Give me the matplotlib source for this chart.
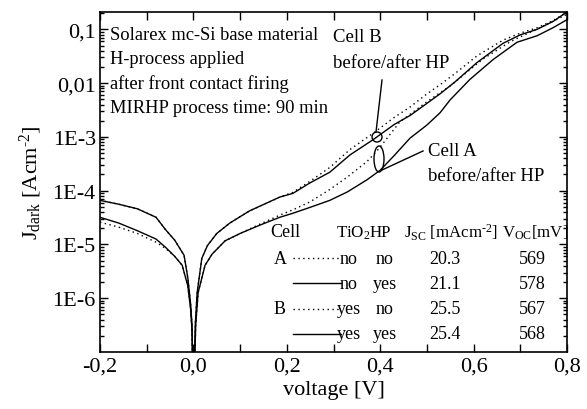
import numpy as np
import matplotlib.pyplot as plt
from matplotlib.patches import Ellipse
from matplotlib.lines import Line2D
from matplotlib.ticker import FixedLocator, NullFormatter

plt.rcParams['font.family'] = ['Liberation Serif', 'DejaVu Serif']
plt.rcParams['mathtext.fontset'] = 'custom'
plt.rcParams['mathtext.rm'] = 'Liberation Serif'
plt.rcParams['mathtext.it'] = 'Liberation Serif'

# dark IV curves, J in A/cm^2
v_a_after = [-0.20, -0.16, -0.12, -0.08, -0.06, -0.04, -0.024, -0.012, -0.006, -0.003, 0.0,
             0.005, 0.010, 0.025, 0.04, 0.068, 0.10, 0.143, 0.185, 0.213, 0.25, 0.292, 0.33,
             0.372, 0.40, 0.43, 0.464, 0.50, 0.528, 0.55, 0.592, 0.642, 0.693, 0.736, 0.77, 0.80]
j_a_after = [3.2e-5, 2.5e-5, 1.8e-5, 1.26e-5, 8.9e-6, 6.0e-6, 4.1e-6, 1.7e-6, 6.3e-7, 2.5e-7, 1e-8,
             3.2e-7, 1.26e-6, 4.1e-6, 6.6e-6, 1.17e-5, 1.6e-5, 2.3e-5, 3.2e-5, 3.8e-5, 4.9e-5, 6.6e-5, 9.5e-5,
             1.6e-4, 2.4e-4, 4.5e-4, 9.5e-4, 1.66e-3, 2.8e-3, 4.9e-3, 1.17e-2, 2.75e-2, 5.75e-2, 7.6e-2, 0.107, 0.151]

v_a_before = [-0.20, -0.16, -0.12, -0.08, -0.06, -0.04, -0.024, -0.012, -0.006, -0.003, 0.0,
              0.005, 0.010, 0.025, 0.04, 0.068, 0.10, 0.143, 0.185, 0.213, 0.25, 0.292, 0.33,
              0.372, 0.397, 0.442, 0.50, 0.55, 0.62, 0.68, 0.74, 0.80]
j_a_before = [2.6e-5, 2.1e-5, 1.6e-5, 1.1e-5, 8.5e-6, 6.0e-6, 4.1e-6, 1.7e-6, 6.3e-7, 2.5e-7, 1e-8,
              3.2e-7, 1.26e-6, 4.1e-6, 6.6e-6, 1.17e-5, 1.6e-5, 2.4e-5, 3.5e-5, 4.4e-5, 6.2e-5, 1.05e-4, 1.8e-4,
              3.5e-4, 6.0e-4, 1.9e-3, 4.5e-3, 8.9e-3, 2.8e-2, 6.0e-2, 0.105, 0.19]

v_b = [-0.20, -0.16, -0.12, -0.08, -0.06, -0.04, -0.02, -0.012, -0.006, -0.003, 0.0,
       0.004, 0.008, 0.018, 0.03, 0.05, 0.078, 0.12, 0.185, 0.213, 0.25, 0.292, 0.335,
       0.385, 0.43, 0.464, 0.50, 0.528, 0.56, 0.607, 0.663, 0.70, 0.736, 0.77, 0.80]
j_b_after = [6.6e-5, 5.6e-5, 4.6e-5, 3.2e-5, 1.9e-5, 1.2e-5, 6.3e-6, 2.4e-6, 7.9e-7, 3.2e-7, 1e-8,
             3.2e-7, 1.26e-6, 5.5e-6, 9.5e-6, 1.6e-5, 2.5e-5, 4.2e-5, 7.6e-5, 8.9e-5, 1.4e-4, 2.2e-4, 4.6e-4,
             8.9e-4, 1.7e-3, 2.5e-3, 4.2e-3, 6.3e-3, 1.05e-2, 2.4e-2, 5.5e-2, 7.9e-2, 0.10, 0.14, 0.21]
j_b_before = [6.6e-5, 5.6e-5, 4.6e-5, 3.2e-5, 1.9e-5, 1.2e-5, 6.3e-6, 2.4e-6, 7.9e-7, 3.2e-7, 1e-8,
              3.2e-7, 1.26e-6, 5.5e-6, 9.5e-6, 1.6e-5, 2.5e-5, 4.2e-5, 7.6e-5, 9.3e-5, 1.5e-4, 2.7e-4, 5.8e-4,
              1.17e-3, 2.3e-3, 3.6e-3, 6.3e-3, 9.3e-3, 1.5e-2, 3.2e-2, 6.3e-2, 8.5e-2, 0.107, 0.145, 0.21]

x_ticks = [-0.2, 0.0, 0.2, 0.4, 0.6, 0.8]
x_labels = ['-0,2', '0,0', '0,2', '0,4', '0,6', '0,8']
y_ticks = [1e-6, 1e-5, 1e-4, 1e-3, 1e-2, 1e-1]
y_labels = ['1E-6', '1E-5', '1E-4', '1E-3', '0,01', '0,1']

info_lines = ['Solarex mc-Si base material', 'H-process applied',
              'after front contact firing', 'MIRHP process time: 90 min']

cells = ['A', '', 'B', '']
tio2 = ['no', 'no', 'yes', 'yes']
hp = ['no', 'yes', 'no', 'yes']
jsc = ['20.3', '21.1', '25.5', '25.4']
voc = ['569', '578', '567', '568']

W, H = 587, 410
fig = plt.figure(figsize=(W / 100, H / 100), dpi=100)
ax = fig.add_axes([100 / W, 1 - 353 / H, 467 / W, 340 / H])

dots = (0, (1, 2.5))
ax.plot(v_a_after, j_a_after, 'k-', lw=1.0)
ax.plot(v_a_before, j_a_before, color='k', ls=dots, lw=1.0)
ax.plot(v_b, j_b_after, 'k-', lw=1.0)
ax.plot(v_b, j_b_before, color='k', ls=dots, lw=1.0)

ax.set_yscale('log')
ax.set_xlim(-0.2, 0.8)
ax.set_ylim(1e-7, 0.21)

ax.set_xticks(x_ticks)
ax.set_xticklabels(x_labels)
ax.xaxis.set_minor_locator(FixedLocator([-0.1, 0.1, 0.3, 0.5, 0.7]))
ax.yaxis.set_major_locator(FixedLocator(y_ticks))
ax.set_yticklabels(y_labels)
ax.yaxis.set_minor_formatter(NullFormatter())
ax.tick_params(which='both', direction='in', top=True, right=True, labelsize=16, width=1)
ax.tick_params(which='major', length=6)
ax.tick_params(which='minor', length=3)
ax.tick_params(axis='x', which='minor', length=6)
ax.tick_params(axis='y', pad=3)
for s in ax.spines.values():
    s.set_linewidth(1.2)

hy = '\u2010'
ax.set_xlabel('voltage [V]', fontsize=16, labelpad=3)
ax.set_ylabel(r'J$_{\rm dark}$ [Acm$^{' + hy + '2}$]', fontsize=16, labelpad=6)

def px(x, y):
    return x / W, 1 - y / H

for i, t in enumerate(info_lines):
    fig.text(*px(110, 35 + 24.5 * i), t, fontsize=13.3, va='center')

# markers for cell A and cell B
ax.add_patch(Ellipse(((377 - 100) / 467, (353 - 138) / 340), 10 / 467, 10 / 340,
                     transform=ax.transAxes, fill=False, lw=1))
ax.add_patch(Ellipse(((379 - 100) / 467, (353 - 160) / 340), 10 / 467, 26 / 340,
                     transform=ax.transAxes, fill=False, lw=1))
fig.add_artist(Line2D([376 / W, 382 / W], [1 - 133 / H, 1 - 81 / H], color='k', lw=1))
fig.add_artist(Line2D([382 / W, 423 / W], [1 - 171 / H, 1 - 152 / H], color='k', lw=1))
fig.text(*px(333, 37), 'Cell B', fontsize=13.5, va='center')
fig.text(*px(333, 63), 'before/after HP', fontsize=13.5, va='center')
fig.text(*px(428, 151), 'Cell A', fontsize=13.5, va='center')
fig.text(*px(428, 177), 'before/after HP', fontsize=13.5, va='center')

# table
hy_row = 233
fs = 13
hfs = 12.2
fig.text(*px(285, hy_row), 'Cell', fontsize=fs, va='center', ha='center')
fig.text(*px(336, hy_row), r'TiO$_2$', fontsize=hfs, va='center', ha='left')
fig.text(*px(370, hy_row), 'HP', fontsize=hfs, va='center', ha='left')
fig.text(*px(404, hy_row), r'J$_{\rm SC}$ [mAcm$^{' + hy + '2}$]', fontsize=hfs, va='center', ha='left')
fig.text(*px(502, hy_row), r'V$_{\rm OC}$[mV]', fontsize=hfs, va='center', ha='left')
for i in range(4):
    y = 259 + 25.3 * i
    if cells[i]:
        fig.text(*px(280, y), cells[i], fontsize=fs, va='center', ha='center')
        fig.add_artist(Line2D([293 / W, 339 / W], [1 - y / H] * 2, color='k', lw=1, ls=dots))
    else:
        fig.add_artist(Line2D([293 / W, 341 / W], [1 - y / H] * 2, color='k', lw=1))
    fig.text(*px(349, y), tio2[i], fontsize=fs, va='center', ha='center')
    fig.text(*px(385, y), hp[i], fontsize=fs, va='center', ha='center')
    fig.text(*px(445, y), jsc[i], fontsize=fs, va='center', ha='center')
    fig.text(*px(532, y), voc[i], fontsize=fs, va='center', ha='center')

fig.savefig('out.png', dpi=100)
